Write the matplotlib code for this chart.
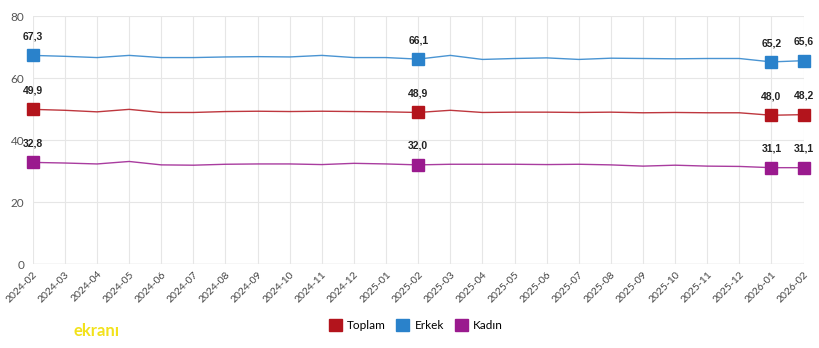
import matplotlib
matplotlib.use("Agg")
import matplotlib.pyplot as plt
from matplotlib.patches import Patch

months = ["2024-02", "2024-03", "2024-04", "2024-05", "2024-06", "2024-07", "2024-08",
          "2024-09", "2024-10", "2024-11", "2024-12", "2025-01", "2025-02", "2025-03",
          "2025-04", "2025-05", "2025-06", "2025-07", "2025-08", "2025-09", "2025-10",
          "2025-11", "2025-12", "2026-01", "2026-02"]
toplam = [49.9, 49.6, 49.1, 49.9, 48.9, 48.9, 49.2, 49.3, 49.2, 49.3, 49.2, 49.1, 48.9,
          49.6, 48.9, 49.0, 49.0, 48.9, 49.0, 48.8, 48.9, 48.8, 48.8, 48.0, 48.2]
erkek = [67.3, 67.0, 66.6, 67.3, 66.6, 66.6, 66.8, 66.9, 66.8, 67.3, 66.6, 66.6, 66.1,
         67.3, 66.0, 66.3, 66.5, 66.0, 66.4, 66.3, 66.2, 66.3, 66.3, 65.2, 65.6]
kadin = [32.8, 32.6, 32.3, 33.1, 32.0, 31.9, 32.2, 32.3, 32.3, 32.1, 32.5, 32.3, 32.0,
         32.2, 32.2, 32.2, 32.1, 32.2, 32.0, 31.6, 31.9, 31.6, 31.5, 31.1, 31.1]
series_names = ["Toplam", "Erkek", "Kadın"]
colors = ["#B3141C", "#2A82CB", "#9A1A8E"]
labeled_idx = [0, 12, 23, 24]
yticks = [0, 20, 40, 60, 80]

fig = plt.figure(figsize=(8.2, 3.48), dpi=100)
ax = fig.add_axes([0.040, 0.241, 0.940, 0.713])
x = list(range(len(months)))

for vals, c in zip([toplam, erkek, kadin], colors):
    ax.plot(x, vals, color=c, lw=1.0, alpha=0.85, zorder=3)
    mx = [x[i] for i in labeled_idx]
    my = [vals[i] for i in labeled_idx]
    ax.plot(mx, my, ls="none", marker="s", ms=9, color=c, zorder=4, clip_on=False)
    for i in labeled_idx:
        ax.annotate(f"{vals[i]:.1f}".replace(".", ","), (x[i], vals[i]),
                    xytext=(0, 10), textcoords="offset points", ha="center",
                    va="bottom", fontsize=7.5, fontweight="bold", color="#222222",
                    family="Liberation Sans")

ax.set_xlim(0, 24)
ax.set_ylim(0, 80)
ax.set_yticks(yticks)
ax.set_xticks(x)
ax.set_xticklabels(months, rotation=45, ha="right", rotation_mode="anchor",
                   fontsize=7.5, color="#444444", family="Lato")
for lab in ax.get_yticklabels():
    lab.set_fontsize(8.5)
    lab.set_color("#555555")
    lab.set_family("Lato")
ax.tick_params(axis="both", length=0, pad=6)
ax.tick_params(axis="x", pad=4)
ax.grid(True, color="#E6E6E6", lw=0.8, zorder=0)
for s in ax.spines.values():
    s.set_visible(False)
ax.axhline(0, color="#D8D8D8", lw=1, zorder=1)

handles = [Patch(facecolor=c, edgecolor=c) for c in colors]
fig.legend(handles, series_names, loc="center", bbox_to_anchor=(0.507, 0.066),
           ncol=3, frameon=False, handlelength=1.1, handleheight=1.1,
           handletextpad=0.45, columnspacing=0.9, prop={"family": "Lato", "size": 8.5})

fig.text(0.09, 0.035, "ekranı", color="#F2E21B", fontsize=12, fontweight="bold",
         family="Lato")

fig.savefig("out.png", dpi=100)
